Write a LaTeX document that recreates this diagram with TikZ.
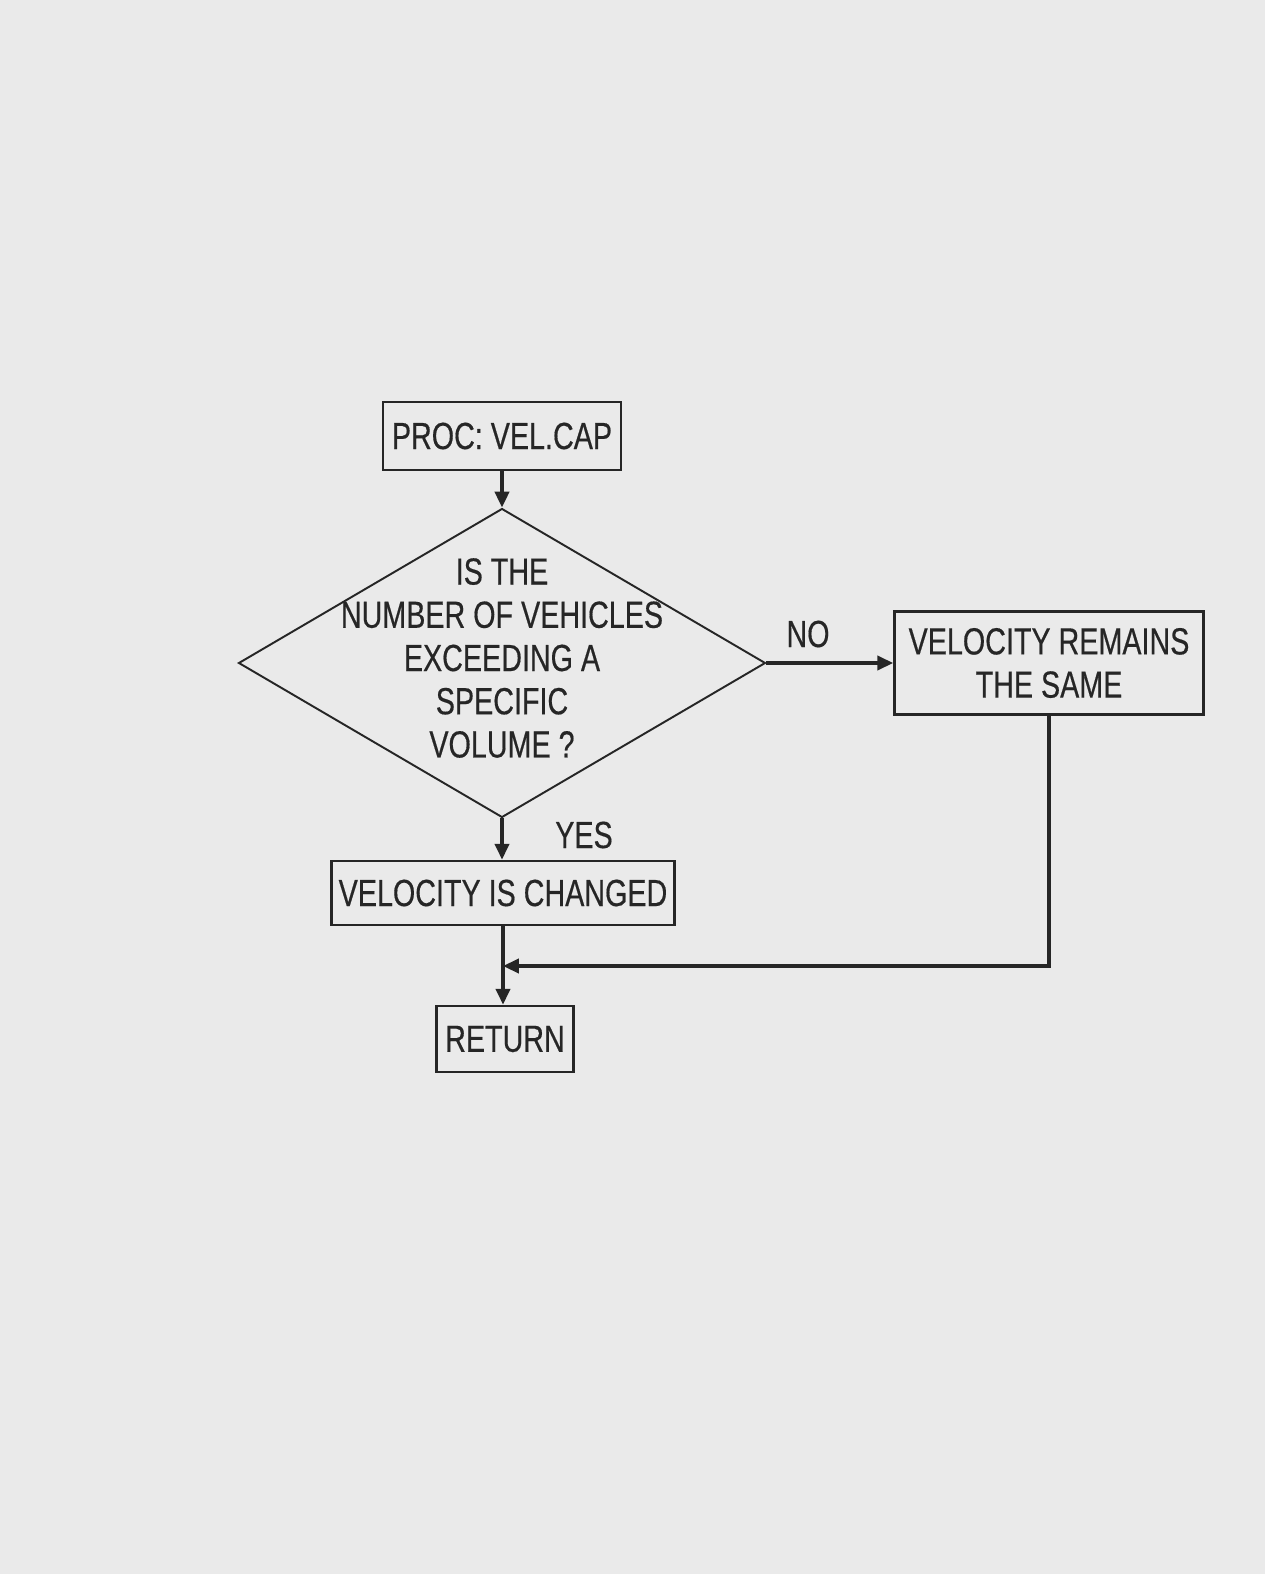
\documentclass[tikz,border=0pt]{standalone}
\usepackage{fontspec}
\newfontfamily\chartfont{Liberation Sans}[FakeStretch=0.76,FakeBold=0.4]
\usetikzlibrary{shapes.geometric,arrows.meta}
\definecolor{paper}{RGB}{234,234,234}
\definecolor{ink}{RGB}{38,38,38}
\begin{document}
\begin{tikzpicture}[x=0.02cm,y=-0.02cm,
	flow/.style={draw=ink,line width=2pt,-{Triangle[length=9pt,width=8pt]}},
	lbl/.style={text=ink,font=\chartfont\fontsize{21.5}{24.6}\selectfont,inner sep=0pt}]
	\useasboundingbox (0,0) rectangle (1265,1574);
	\fill[paper] (0,0) rectangle (1265,1574);
	\begin{scope}[every node/.style={rectangle,draw=ink,line width=1.5pt,inner sep=0pt,align=center,text=ink,font=\chartfont\fontsize{21.5}{24.6}\selectfont}]
	\node (proc) [minimum width=4.76cm,minimum height=1.36cm] at (502,436) {PROC: VEL.CAP};
	\node (dia) [diamond,line width=1.1pt,minimum width=10.54cm,minimum height=6.18cm] at (502,663) {};
	\node (vsame) [minimum width=6.18cm,minimum height=2.06cm] at (1049,663) {VELOCITY REMAINS\\THE SAME};
	\node (vchg) [minimum width=6.86cm,minimum height=1.28cm] at (503,893) {VELOCITY IS CHANGED};
	\node (ret) [minimum width=2.75cm,minimum height=1.32cm] at (505,1039) {RETURN};
	\end{scope}
	\node (q) [lbl,align=center] at (502,658) {IS THE\\NUMBER OF VEHICLES\\EXCEEDING A\\SPECIFIC\\VOLUME ?};
	\node (no) [lbl] at (808,634) {NO};
	\node (yes) [lbl] at (584,835) {YES};
	\coordinate (join) at (503,966);
	\draw [flow] (proc) -- (dia);
	\draw [flow] (dia) -- (vsame);
	\draw [flow] (dia.south) -- (dia.south |- vchg.north);
	\draw [flow] (vchg.south) -- (vchg.south |- ret.north);
	\draw [flow] (vsame.south) |- (join);
\end{tikzpicture}
\end{document}
